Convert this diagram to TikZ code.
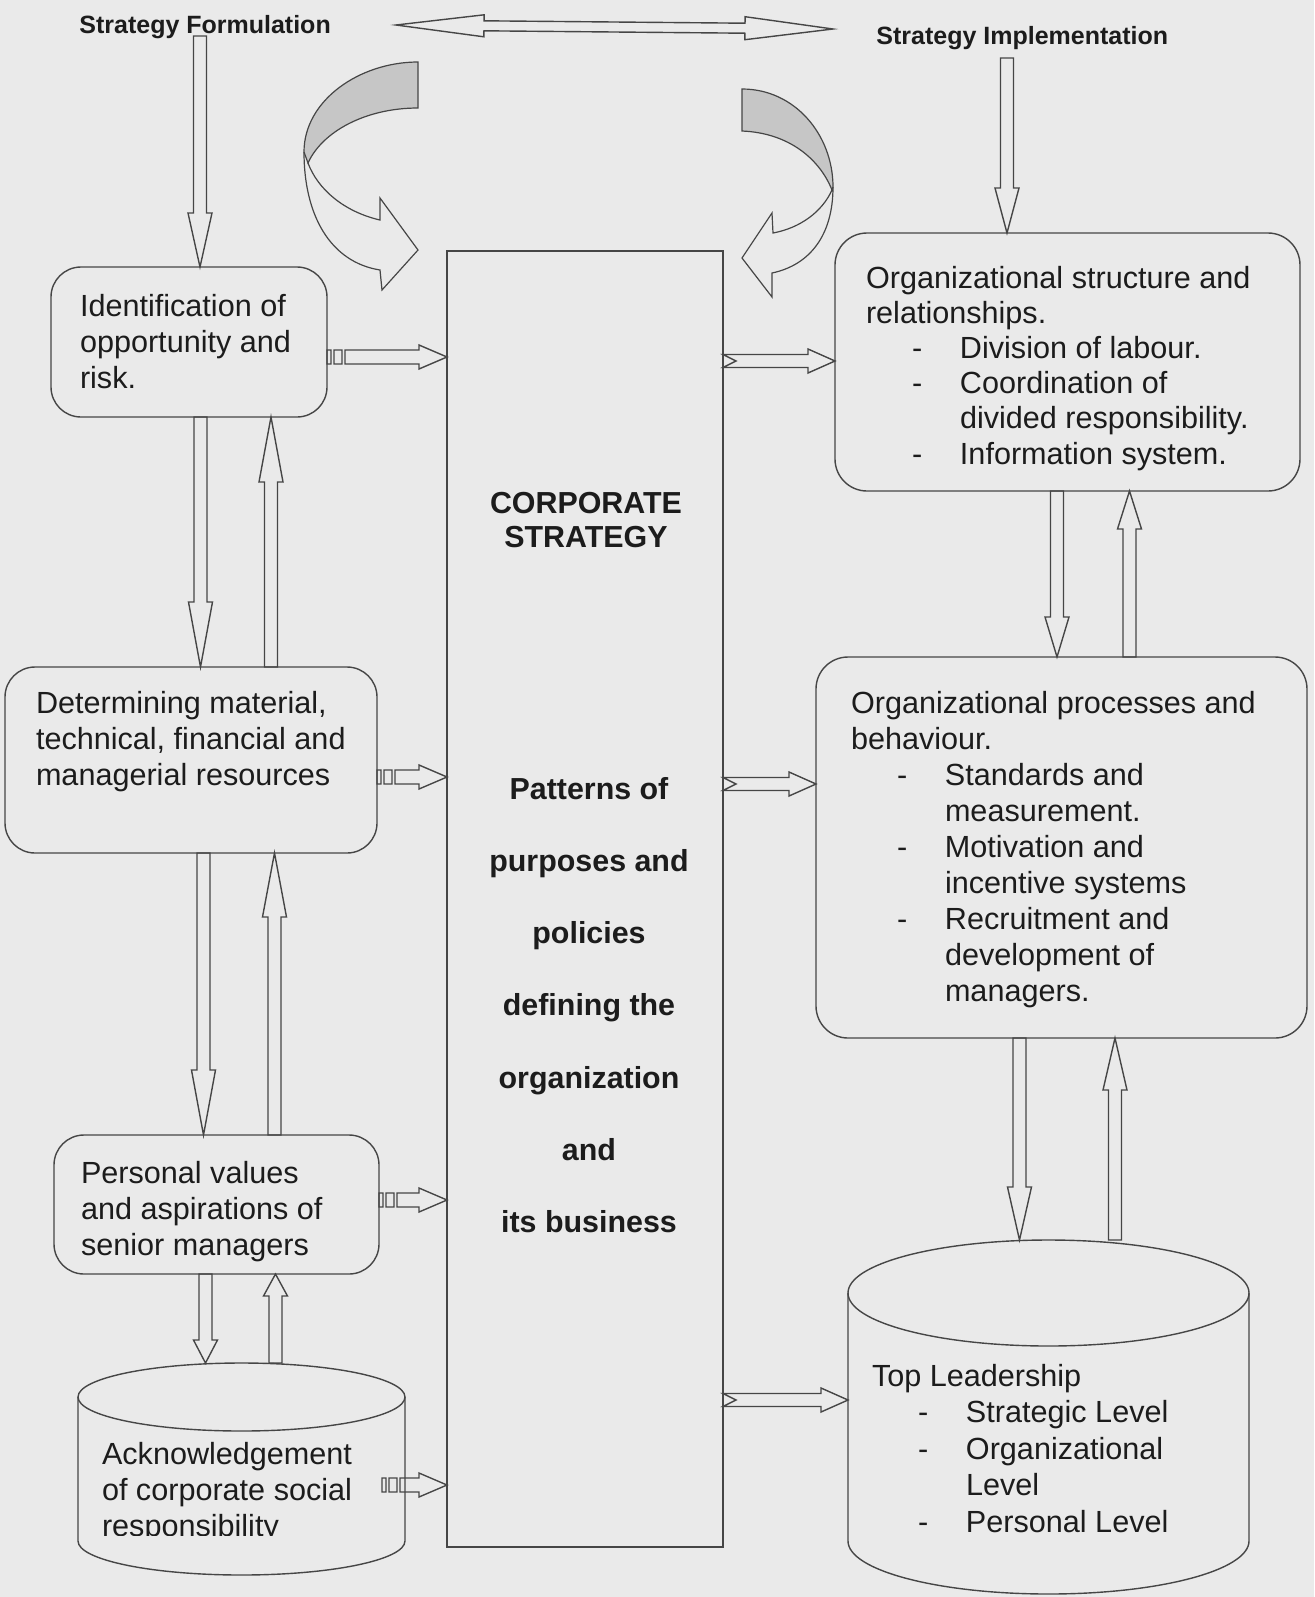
\documentclass[tikz,border=0pt]{standalone}
\usepackage{fontspec}
\setmainfont{Liberation Sans}
\usetikzlibrary{calc}
\definecolor{bgc}{RGB}{234,234,234}
\definecolor{linec}{RGB}{70,70,70}
\definecolor{txc}{RGB}{28,28,28}
\definecolor{gfill}{RGB}{198,198,198}
% hollow block arrow: start, end, shaft half width, head half width, head length
\newcommand\barrow[5]{%
  \draw[blockarr] let \p1=#1, \p2=#2, \n1={atan2(\y2-\y1,\x2-\x1)}, \n2={veclen(\x2-\x1,\y2-\y1)} in
    [shift={(\p1)}, rotate=\n1]
    (0pt,-#3) -- (\n2-#5,-#3) -- (\n2-#5,-#4) -- (\n2+0pt,0pt) -- (\n2-#5,#4) -- (\n2-#5,#3) -- (0pt,#3) -- cycle;}
% striped right arrow
\newcommand\sarrow[2]{%
  \draw[blockarr] let \p1=#1, \p2=#2, \n2={\x2-\x1} in [shift={(\p1)}]
    (0pt,-3.5pt) rectangle (2pt,3.5pt)
    (3.5pt,-3.5pt) rectangle (7.5pt,3.5pt)
    (9pt,-3.5pt) -- (\n2-14pt,-3.5pt) -- (\n2-14pt,-6pt) -- (\n2+0pt,0pt) -- (\n2-14pt,6pt) -- (\n2-14pt,3.5pt) -- (9pt,3.5pt) -- cycle;}
% notched right arrow
\newcommand\narrow[2]{%
  \draw[blockarr] let \p1=#1, \p2=#2, \n2={\x2-\x1} in [shift={(\p1)}]
    (0pt,-3.25pt) -- (\n2-13.5pt,-3.25pt) -- (\n2-13.5pt,-6pt) -- (\n2+0pt,0pt) -- (\n2-13.5pt,6pt) -- (\n2-13.5pt,3.25pt) -- (0pt,3.25pt) -- (6.5pt,0pt) -- cycle;}
% double headed block arrow
\newcommand\dbarrow[2]{%
  \draw[blockarr] let \p1=#1, \p2=#2, \n1={atan2(\y2-\y1,\x2-\x1)}, \n2={veclen(\x2-\x1,\y2-\y1)} in
    [shift={(\p1)}, rotate=\n1]
    (0pt,0pt) -- (44pt,5.5pt) -- (44pt,2.5pt) -- (\n2-44pt,2.5pt) -- (\n2-44pt,5.75pt) -- (\n2+0pt,0pt) -- (\n2-44pt,-5.75pt) -- (\n2-44pt,-2.5pt) -- (44pt,-2.5pt) -- (44pt,-5.5pt) -- cycle;}
\newcommand\dashit[1]{\hspace*{23pt}\makebox[24pt][l]{-}#1}
\newcommand\contit[1]{\hspace*{47pt}#1}
\begin{document}
\begin{tikzpicture}[x=0.5pt,y=-0.5pt,
  lnw/.style={line width=0.7pt, draw=linec},
  blockarr/.style={lnw, line join=miter},
  rbox/.style={lnw, rectangle, rounded corners=15pt, inner sep=0pt, outer sep=0pt},
  plainbox/.style={lnw, rectangle, inner sep=0pt, outer sep=0pt},
  phantomcyl/.style={rectangle, draw=none, inner sep=0pt, outer sep=0pt},
  btext/.style={anchor=north west, inner sep=0pt, outer sep=0pt, align=left, text=txc, font=\fontsize{15.3}{18}\selectfont},
  ctext/.style={anchor=north, inner sep=0pt, outer sep=0pt, align=center, text=txc},
  ttl/.style={anchor=base west, inner sep=0pt, text=txc, font=\bfseries\fontsize{12.5}{15}\selectfont}]

\fill[bgc] (0,0) rectangle (1314,1597);
\useasboundingbox (0,0) rectangle (1314,1597);

% titles
\node[ttl] (tform) at (79,33) {Strategy Formulation};
\node[ttl] (timpl) at (876,44) {Strategy Implementation};

% central rectangle
\node[plainbox, minimum width=138pt, minimum height=648pt] (corp) at (585,899) {};
\node[ctext, font=\bfseries\fontsize{15.2}{17}\selectfont] (corptitle) at (586,492) {CORPORATE\\STRATEGY};
\node[ctext, font=\bfseries\fontsize{15.2}{36.15}\selectfont] (corpbody) at (589,777)
  {Patterns of\\purposes and\\policies\\defining the\\organization\\and\\its business};

% left boxes
\node[rbox, minimum width=138pt, minimum height=75pt] (ident) at (189,342) {};
\node[rbox, minimum width=186pt, minimum height=93pt] (det) at (191,760) {};
\node[rbox, minimum width=162.5pt, minimum height=69.5pt] (pers) at (216.5,1204.5) {};
\node[phantomcyl, minimum width=163.5pt, minimum height=106pt] (ack) at (241.5,1469) {};
\draw[lnw] ([yshift=-17pt]ack.north west) -- ([yshift=17pt]ack.south west)
  arc[start angle=180, end angle=360, x radius=81.75pt, y radius=17pt] -- ([yshift=-17pt]ack.north east);
\draw[lnw] ([yshift=-17pt]ack.north) ellipse[x radius=81.75pt, y radius=17pt];

\node[btext] (identtxt) at (80,294) {Identification of\\opportunity and\\risk.};
\node[btext] (dettxt) at (36,691) {Determining material,\\technical, financial and\\managerial resources};
\node[btext] (perstxt) at (81,1161) {Personal values\\and aspirations of\\senior managers};
\begin{scope}
\clip (0,0) rectangle (1314,1535);
\node[btext] (acktxt) at (102,1442) {Acknowledgement\\of corporate social\\responsibility};
\end{scope}

% right boxes
\node[rbox, rounded corners=16pt, minimum width=232.5pt, minimum height=129pt] (struct) at (1067.5,362) {};
\node[rbox, rounded corners=16pt, minimum width=245.5pt, minimum height=190.5pt] (proc) at (1061.5,847.5) {};
\node[phantomcyl, minimum width=200.5pt, minimum height=177pt] (tl) at (1048.5,1417) {};
\draw[lnw] ([yshift=-26.5pt]tl.north west) -- ([yshift=26.5pt]tl.south west)
  arc[start angle=180, end angle=360, x radius=100.25pt, y radius=26.5pt] -- ([yshift=-26.5pt]tl.north east);
\draw[lnw] ([yshift=-26.5pt]tl.north) ellipse[x radius=100.25pt, y radius=26.5pt];

\node[btext, font=\fontsize{15.3}{17.6}\selectfont] (structtxt) at (866,266)
  {Organizational structure and\\relationships.\\\dashit{Division of labour.}\\\dashit{Coordination of}\\\contit{divided responsibility.}\\\dashit{Information system.}};
\node[btext] (proctxt) at (851,691)
  {Organizational processes and\\behaviour.\\\dashit{Standards and}\\\contit{measurement.}\\\dashit{Motivation and}\\\contit{incentive systems}\\\dashit{Recruitment and}\\\contit{development of}\\\contit{managers.}};
\node[btext, font=\fontsize{15.3}{18.3}\selectfont] (tltxt) at (872,1364)
  {Top Leadership\\\dashit{Strategic Level}\\\dashit{Organizational}\\\contit{Level}\\\dashit{Personal Level}};

% curved arrows
\filldraw[fill=gfill, lnw, line width=0.6pt] (418,62) .. controls (360,62) and (304,100) .. (304,152)
  -- (308,163) .. controls (322,132) and (365,108) .. (418,108) -- cycle;
\draw[lnw, line width=0.6pt, line join=miter] (308,163) .. controls (318,190) and (345,212) .. (380,220)
  -- (380,198) -- (418,250) -- (382,290) -- (380,270) .. controls (330,262) and (304,215) .. (304,152);
\filldraw[fill=gfill, lnw, line width=0.6pt] (742,89) .. controls (795,89) and (833,135) .. (833,187)
  -- (832,190) .. controls (820,160) and (790,133) .. (742,131) -- cycle;
\draw[lnw, line width=0.6pt, line join=miter] (832,190) .. controls (822,212) and (800,228) .. (773,233)
  -- (772,213) -- (742,258) -- (772,297) -- (772,273) .. controls (810,265) and (833,235) .. (833,187);

% anchor coordinates for connectors
\coordinate (dl) at (396,25);
\coordinate (dr) at (833,29);
\coordinate (sftop) at (200,36);
\coordinate (sitop) at (1007,58);
\coordinate (xa) at (200.5,0);
\coordinate (xb) at (271,0);
\coordinate (xc) at (203.5,0);
\coordinate (xd) at (274.5,0);
\coordinate (xe) at (205.5,0);
\coordinate (xf) at (275.5,0);
\coordinate (xg) at (1057,0);
\coordinate (xh) at (1129.5,0);
\coordinate (xi) at (1019.5,0);
\coordinate (xj) at (1115,0);
\coordinate (ya) at (0,357);
\coordinate (yb) at (0,777);
\coordinate (yc) at (0,1200);
\coordinate (yd) at (0,1485);
\coordinate (ye) at (0,361);
\coordinate (yf) at (0,784);
\coordinate (yg) at (0,1400);
\coordinate (ackarr) at (382,1485);

% connectors
\dbarrow{(dl)}{(dr)}
\barrow{(sftop)}{(sftop |- ident.north)}{3.25pt}{6pt}{27pt}
\barrow{(sitop)}{(sitop |- struct.north)}{3.25pt}{6pt}{22.5pt}
\barrow{(xa |- ident.south)}{(xa |- det.north)}{3.25pt}{6pt}{32.5pt}
\barrow{(xb |- det.north)}{(xb |- ident.south)}{3.25pt}{6pt}{32.5pt}
\barrow{(xc |- det.south)}{(xc |- pers.north)}{3.25pt}{6pt}{32.5pt}
\barrow{(xd |- pers.north)}{(xd |- det.south)}{3.25pt}{6pt}{32pt}
\barrow{(xe |- pers.south)}{(xe |- ack.north)}{3.25pt}{6pt}{11.5pt}
\barrow{(xf |- ack.north)}{(xf |- pers.south)}{3.25pt}{6pt}{11pt}
\barrow{(xg |- struct.south)}{(xg |- proc.north)}{3.25pt}{6pt}{20pt}
\barrow{(xh |- proc.north)}{(xh |- struct.south)}{3.25pt}{6pt}{19pt}
\barrow{(xi |- proc.south)}{(xi |- tl.north)}{3.25pt}{6pt}{26.5pt}
\barrow{(xj |- tl.north)}{(xj |- proc.south)}{3.25pt}{6pt}{26pt}
\sarrow{(ident.east |- ya)}{(corp.west |- ya)}
\sarrow{(det.east |- yb)}{(corp.west |- yb)}
\sarrow{(pers.east |- yc)}{(corp.west |- yc)}
\sarrow{(ackarr)}{(corp.west |- yd)}
\narrow{(corp.east |- ye)}{(struct.west |- ye)}
\narrow{(corp.east |- yf)}{(proc.west |- yf)}
\narrow{(corp.east |- yg)}{(tl.west |- yg)}
\end{tikzpicture}
\end{document}
